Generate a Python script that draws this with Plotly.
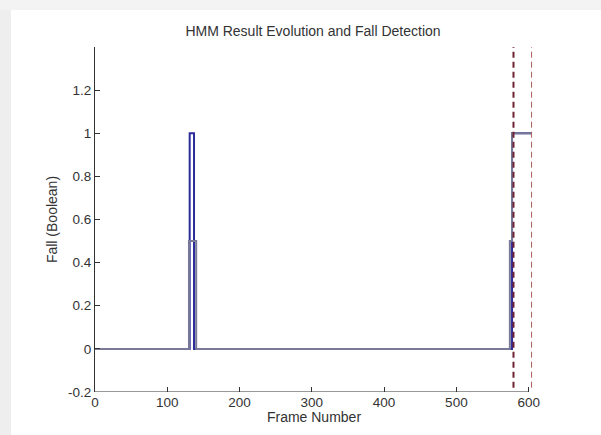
import plotly.graph_objects as go

# HMM state output (0 = normal, 0.5 = suspicious, 1 = fall) per frame breakpoint
hmm_frames = [0, 130, 140, 574, 577, 604]
hmm_values = [0, 0.5, 0, 0.5, 1, 1]

# Boolean fall decision per frame breakpoint
fall_frames = [0, 131, 137, 577, 604]
fall_values = [0, 1, 0, 1, 1]

# Detection markers (frame numbers)
detect_start = 579
detect_end = 604

x_ticks = [0, 100, 200, 300, 400, 500, 600]
y_ticks = [-0.2, 0, 0.2, 0.4, 0.6, 0.8, 1, 1.2]
y_tick_labels = ["-0.2", "0", "0.2", "0.4", "0.6", "0.8", "1", "1.2"]

FONT = "Liberation Sans, Arial, sans-serif"

fig = go.Figure()
fig.add_trace(go.Scatter(
    x=fall_frames, y=fall_values, mode="lines", line_shape="hv",
    line=dict(color="#2b2b9c", width=2), showlegend=False))
fig.add_trace(go.Scatter(
    x=hmm_frames, y=hmm_values, mode="lines", line_shape="hv",
    line=dict(color="#7a7a98", width=2), showlegend=False))

shapes = []
# frame border / window shadow
shapes.append(dict(type="rect", xref="paper", yref="paper",
                   x0=(0 - 95) / 438, x1=(11 - 95) / 438, y0=(392 - 435) / 345, y1=(392 - 0) / 345,
                   fillcolor="#eeeeee", line=dict(width=0), layer="below"))
shapes.append(dict(type="rect", xref="paper", yref="paper",
                   x0=(0 - 95) / 438, x1=(601 - 95) / 438, y0=(392 - 10) / 345, y1=(392 - 0) / 345,
                   fillcolor="#f3f3f3", line=dict(width=0), layer="below"))
# x axis baseline ending at 600
shapes.append(dict(type="line", xref="x", yref="y", x0=0, x1=600, y0=-0.2, y1=-0.2,
                   line=dict(color="#333333", width=1.2)))
# detection window markers
shapes.append(dict(type="line", xref="x", yref="y", x0=detect_start, x1=detect_start, y0=-0.18, y1=1.4,
                   line=dict(color="#6e2333", width=2, dash="6px,4px")))
shapes.append(dict(type="line", xref="x", yref="y", x0=detect_end, x1=detect_end, y0=-0.18, y1=1.4,
                   line=dict(color="#a8605a", width=1, dash="6px,4px")))

fig.update_layout(
    width=601, height=435,
    margin=dict(l=95, r=68, t=47, b=43),
    paper_bgcolor="white", plot_bgcolor="white",
    font=dict(family=FONT, size=13.5, color="#333333"),
    title=dict(text="HMM Result Evolution and Fall Detection", x=(313 / 601), xanchor="center",
               y=1 - 31 / 435, yanchor="middle", font=dict(size=14, color="#333333")),
    shapes=shapes,
    xaxis=dict(range=[0, 606], tickvals=x_ticks, ticks="inside", ticklen=5, tickcolor="#333333",
               showgrid=False, zeroline=False, showline=False,
               title=dict(text="Frame Number", standoff=3, font=dict(size=14))),
    yaxis=dict(range=[-0.2, 1.4], tickvals=y_ticks, ticktext=y_tick_labels, ticks="inside",
               ticklen=5, tickcolor="#333333", showgrid=False, zeroline=False,
               showline=True, linecolor="#333333", linewidth=1.2,
               title=dict(text="Fall (Boolean)", standoff=7, font=dict(size=14))),
)

fig.write_html("out.html")
